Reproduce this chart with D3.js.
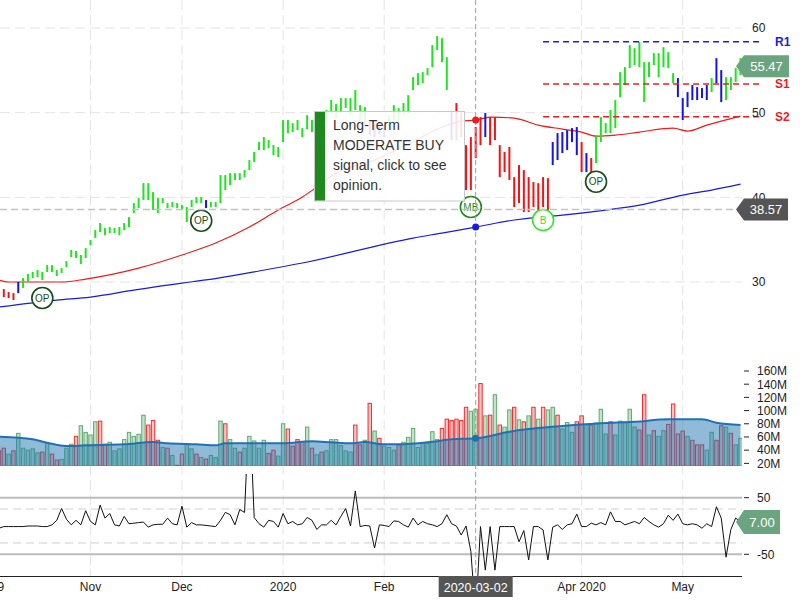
<!DOCTYPE html>
<html><head><meta charset="utf-8">
<script src="https://cdn.jsdelivr.net/npm/d3@7"></script>
<style>body{margin:0;background:#fff}svg{display:block;font-family:"Liberation Sans",Arial,sans-serif}</style>
</head><body><svg id="c" width="800" height="600"></svg>
<script>
// ---------- DATA ----------
const highs = [29.40,29.16,28.81,28.69,30.00,30.46,30.95,31.18,31.42,31.18,
32.00,32.00,31.42,31.64,32.47,33.78,33.66,33.19,34.00,34.96,
36.14,36.96,36.37,36.49,36.37,36.49,36.96,37.67,39.32,39.91,
41.68,41.68,40.62,39.91,39.91,39.32,39.44,39.32,39.08,38.85,
39.68,40.03,40.03,39.68,39.44,39.44,42.63,42.63,42.86,42.86,
42.86,43.22,44.40,45.35,46.53,47.12,46.76,46.17,45.94,49.13,
49.13,48.77,49.13,48.18,49.71,49.13,49.36,49.71,50.31,51.49,
51.01,51.72,51.72,51.72,52.67,50.89,50.66,48.89,48.65,48.89,
48.53,49.71,50.89,50.54,51.13,52.07,54.20,54.67,54.79,55.26,
57.98,59.04,58.80,56.56,50.07,51.13,50.07,46.17,47.12,48.30,
49.48,49.95,49.48,49.48,46.17,45.35,45.94,42.39,43.81,43.22,
42.39,41.80,41.68,42.39,42.27,46.53,47.59,47.71,47.94,48.18,
48.30,46.53,45.23,44.64,47.35,49.48,48.77,50.31,51.49,54.79,
55.38,57.98,57.62,58.33,55.97,55.97,57.03,57.03,57.74,57.15,
54.67,54.08,51.72,52.43,53.26,53.02,52.90,53.26,54.08,56.44,
55.03,54.20,54.20,55.26,56.44];
const lows = [28.69,28.22,28.10,27.87,28.69,29.28,30.00,30.46,30.58,30.24,
31.18,31.18,30.70,31.07,31.76,32.95,32.83,32.12,32.83,34.37,
35.19,35.90,35.54,35.78,35.78,35.54,36.14,36.49,38.14,38.73,
39.68,39.68,38.50,38.14,39.32,38.73,38.85,38.73,38.50,37.08,
38.85,39.32,39.32,38.73,38.85,38.85,39.32,40.86,41.45,42.04,
42.04,42.39,43.22,44.16,45.58,45.58,45.82,44.99,44.76,46.53,
47.59,47.71,47.94,47.12,48.06,47.71,48.18,48.53,48.89,49.95,
49.36,50.07,50.54,49.71,50.31,48.89,48.53,47.35,47.12,47.47,
47.12,48.18,49.13,48.89,49.71,49.95,52.67,53.26,53.49,54.44,
55.38,57.39,55.97,52.67,46.76,46.76,47.12,40.86,40.86,44.64,
46.17,47.12,46.17,46.76,42.39,42.98,42.04,38.85,39.32,38.26,
38.26,38.85,38.26,38.85,38.50,43.81,44.40,45.23,45.58,46.53,
44.99,42.98,42.98,42.98,44.05,46.53,47.59,47.59,48.18,51.84,
53.26,55.26,55.62,55.38,51.25,54.20,55.62,54.20,55.38,55.26,
53.49,51.84,49.13,50.66,51.49,51.49,51.72,51.49,52.43,53.49,
51.25,51.49,52.67,53.61,54.44];
// bar signal colour: g = up trend, r = down trend, b = neutral
const barSignal = ("rrrrbggggg"+"gggggggggg"+"gggggggggg"+"gggggggggg"+"gggbgggggg"+
"gggggggggg"+"gggggggggg"+"gggggggbbb"+"bggggggggg"+"ggggbrrrrr"+
"rbrrrrrrrr"+"rrrrrbbbbb"+"brbrgggggg"+"gggggggggg"+"gbbbbbbbgb"+"bgggg").split("");
const volumes = [39,43,34,39,65.5,43,40,42,36,37,
51,34,25,26,43,49,61,77,67,63,
83,84,49,52,39,42,56,67,61,64,
93,78,85,55,44,43,32,17,34,50,
42,34,29,26.5,32,29,84,80,56,43,
37,43,61,54,43,55,35,40,31,80,
72,46,56,53,75,43,33,37,39,56,
56,47,39,37,78,48,55,111,69,58,
46,44,40,48,52,59.5,73,44,50,50,
68,56,73,87,85,87,85,105,99,102,
141,92,93,124,78,75,101,105,86,83,
92,105,87,105,101,105,93,72,82,67,
83,92,79,78,81,102,64.5,83,63,84,
82,102,75,70.5,124,63,69.5,61,69.5,79,
110,64.5,69,61,55,48,48,40,67,55,
77,75,65.5,48,58];
const volDir = ("rrgrgggggr"+"grrgggrggg"+"grrggggggg"+"grrrgrgrrg"+"grgrgggrgg"+
"rgggggrrgg"+"rrrrgrgrgg"+"ggggrrgrgr"+"gggrgggggg"+"ggrrrrrrgg"+
"rgrgrggrgr"+"grgrggrggg"+"rrgrgggrgg"+"gggrrgrggr"+"rrrgrrrggr"+"rgrgg").split("");
const oscValues = [-4,-1,-1,-1,-1,-1,0,0,0,-1,
-1,2,10,31,12,2,10,2,27,8,
2,37,14,22,2,0,17,4,5,6,
7,-2,2,3,3,14,4,2,35,-2,
6,2,2,1,0,-1,10,24,20,2,
29,24,220,15,4,-2,10,8,-2,22,
4,8,2,4,15,10,-6,2,2,10,
2,17,31,0,62,-1,1,0,-39,2,
1,-1,9,8,2,-2,14,2,8,4,
2,-1,4,20,4,0,-16,0,-45,-160,
-1,-78,-1,-78,-1,-1,-1,-1,-28,-8,
-60,-1,-1,-7,-60,-2,2,-6,2,4,
21,-1,-1,5,2,6,2,25,8,8,
2,5,8,4,15,8,2,-2,4,19,
10,21,4,2,4,2,-4,4,-1,34,
14,-55,-6,14,7];
// moving averages as [bar index, value]
const maShort = [[0,30.24],[2,30.00],[13,30.00],[18,30.35],[29,31.64],[38,33.19],[45,34.60],[52,36.49],[58,38.50],[63,40.03],[66,41.21],[70,42.86],[78,44.40],[85,46.28],[92,48.30],[96,49.01],[99,49.13],[102,49.48],[107,49.36],[112,48.53],[117,48.06],[121,47.71],[124,47.23],[128,47.35],[133,47.71],[140,48.18],[143,47.82],[147,48.53],[154,49.60]];
const maLong = [[0,27.04],[12,27.87],[19,28.22],[28,29.04],[38,29.87],[43,30.24],[54,31.30],[63,32.24],[86,35.19],[92,35.78],[99,36.49],[107,37.32],[112,37.67],[117,37.91],[126,38.50],[133,39.08],[142,40.27],[148,40.86],[154,41.56]];
const volMA = [[0,60.4],[7,56.4],[10,51.3],[14,46.3],[18,47.3],[26,48.8],[32,52.3],[35,50.3],[41,48.8],[45,47.3],[47,50.3],[59,50.3],[65,53.4],[69,51.9],[73,50.3],[76,52.3],[80,48.8],[83,48.8],[90,52.8],[94,56.4],[99,57.9],[106,68.0],[117,76.6],[125,80.7],[132,83.1],[139,86.8],[146,86.8],[149,81.6],[154,78.1]];
const monthTicks = [["Oct 2019",-4],["Nov",19],["Dec",38],["2020",59],["Feb",80],["Apr 2020",121],["May",142]];
const priceTicks = [30,40,50,60];
const volTicks = [20,40,60,80,100,120,140,160];
const oscTicks = [50,-50];
const levels = [["R1",58.37,"#1a1ae6"],["S1",53.38,"#ee1c1c"],["S2",49.52,"#ee1c1c"]];
const levelStart = 113;
const signals = [["OP",9,28.11],["OP",42,37.24],["OP",124,41.84],["MB",98,38.86],["B",113,37.32]];
const crossIndex = 99, crossPrice = 38.57, crossDate = "2020-03-02";
const lastPrice = 55.47, lastOsc = 7.00;
const tipLines = ["Long-Term","MODERATE BUY","signal, click to see","opinion."];

// ---------- SCALES ----------
const svg = d3.select("#c");
const PR = 742;
const x = d3.scaleLinear().domain([0,154]).range([-1,740.5]);
const yP = d3.scaleLinear().domain([30,60]).range([282,28]);
const yV = d3.scaleLinear().domain([16,160]).range([466,371]);
const yO = d3.scaleLinear().domain([-50,50]).range([554.3,497.7]);
const col = {g:"#1fe51f", r:"#f01414", b:"#1414e6"};
const defs = svg.append("defs");
[["cm",0,0,PR,345],["cv",0,355,PR,111],["co",0,474,PR,102]].forEach(([id,a,b,w,h])=>
  defs.append("clipPath").attr("id",id).append("rect").attr("x",a).attr("y",b).attr("width",w).attr("height",h));

// grid
const grid = svg.append("g");
grid.selectAll("line.v").data(monthTicks.filter(d=>d[1]>=0)).join("line")
  .attr("x1",d=>x(d[1])).attr("x2",d=>x(d[1])).attr("y1",0).attr("y2",576)
  .attr("stroke","#e4e4e4").attr("stroke-dasharray","10,5");
grid.selectAll("line.h").data(priceTicks).join("line")
  .attr("x1",0).attr("x2",PR).attr("y1",d=>yP(d)).attr("y2",d=>yP(d))
  .attr("stroke","#e4e4e4").attr("stroke-dasharray","10,5");

// ---------- MAIN PANEL ----------
const main = svg.append("g").attr("clip-path","url(#cm)");
const maLine = d3.line().x(d=>x(d[0])).y(d=>yP(d[1])).curve(d3.curveMonotoneX);
main.append("path").attr("d",maLine(maShort)).attr("fill","none").attr("stroke","#f01a1a").attr("stroke-width",1.2);
main.append("path").attr("d",maLine(maLong)).attr("fill","none").attr("stroke","#1a1ae0").attr("stroke-width",1.2);
main.selectAll("line.bar").data(highs).join("line")
  .attr("x1",(d,i)=>x(i)).attr("x2",(d,i)=>x(i))
  .attr("y1",d=>yP(d)).attr("y2",(d,i)=>yP(lows[i]))
  .attr("stroke",(d,i)=>col[barSignal[i]]).attr("stroke-width",2);

// support / resistance
const lv = svg.append("g");
levels.forEach(([name,val,c])=>{
  lv.append("line").attr("x1",x(levelStart)).attr("x2",762).attr("y1",yP(val)).attr("y2",yP(val))
    .attr("stroke",c).attr("stroke-width",1.5).attr("stroke-dasharray","6,4");
  lv.append("text").attr("x",775).attr("y",yP(val)).attr("dy","0.36em").attr("fill",c)
    .attr("font-weight","bold").attr("font-size",12).text(name);
});

// signals
const sg = svg.append("g");
signals.forEach(([t,i,v])=>{
  const c = t==="OP" ? "#174d17" : (t==="MB" ? "#1f8a1f" : "#2ee82e");
  sg.append("circle").attr("cx",x(i)).attr("cy",yP(v)).attr("r",10.5).attr("fill","#fff").attr("stroke",c).attr("stroke-width",1.6);
  sg.append("text").attr("x",x(i)).attr("y",yP(v)).attr("dy","0.36em").attr("text-anchor","middle")
    .attr("font-size",10).attr("fill",c).text(t);
});

// ---------- VOLUME PANEL ----------
const vol = svg.append("g").attr("clip-path","url(#cv)");
vol.selectAll("rect").data(volumes).join("rect")
  .attr("x",(d,i)=>x(i)-1.7).attr("width",3.4)
  .attr("y",d=>yV(d)).attr("height",d=>yV(16)-yV(d))
  .attr("fill",(d,i)=>volDir[i]==="g"?"#c2e3c9":"#f7c4c4")
  .attr("stroke",(d,i)=>volDir[i]==="g"?"#5fa872":"#ee3030").attr("stroke-width",1);
const vArea = d3.area().x(d=>x(d[0])).y0(yV(16)).y1(d=>yV(d[1])).curve(d3.curveMonotoneX);
vol.append("path").attr("d",vArea(volMA)).attr("fill","#1f77b4").attr("fill-opacity",0.5);
const vLine = d3.line().x(d=>x(d[0])).y(d=>yV(d[1])).curve(d3.curveMonotoneX);
vol.append("path").attr("d",vLine(volMA)).attr("fill","none").attr("stroke","#2070b2").attr("stroke-width",2);

// ---------- OSCILLATOR PANEL ----------
const osc = svg.append("g");
oscTicks.forEach(v=>{
  osc.append("line").attr("x1",0).attr("x2",PR).attr("y1",yO(v)).attr("y2",yO(v)).attr("stroke","#bdbdbd").attr("stroke-width",2);
});
[30,-30].forEach(v=>{
  osc.append("line").attr("x1",0).attr("x2",PR).attr("y1",yO(v)).attr("y2",yO(v)).attr("stroke","#cfcfcf").attr("stroke-dasharray","8,5");
});
osc.append("g").attr("clip-path","url(#co)").append("path")
  .attr("d",d3.line().x((d,i)=>x(i)).y(d=>yO(d))(oscValues))
  .attr("fill","none").attr("stroke","#111").attr("stroke-width",1);
svg.append("line").attr("x1",0).attr("x2",PR).attr("y1",576.5).attr("y2",576.5).attr("stroke","#222").attr("stroke-width",1.2);

// ---------- CROSSHAIR ----------
const ch = svg.append("g");
ch.append("line").attr("x1",x(crossIndex)).attr("x2",x(crossIndex)).attr("y1",0).attr("y2",576)
  .attr("stroke","#a0a0a0").attr("stroke-dasharray","5,3");
ch.append("line").attr("x1",0).attr("x2",PR).attr("y1",yP(crossPrice)).attr("y2",yP(crossPrice))
  .attr("stroke","#c4c4c4").attr("stroke-width",1.6).attr("stroke-dasharray","7,4");
const at = (arr,i)=>arr.find(d=>d[0]===i)[1];
ch.append("circle").attr("cx",x(crossIndex)).attr("cy",yP(at(maShort,crossIndex))).attr("r",3.5).attr("fill","#f01a1a");
ch.append("circle").attr("cx",x(crossIndex)).attr("cy",yP(at(maLong,crossIndex))).attr("r",3.5).attr("fill","#1a1ae0");
ch.append("circle").attr("cx",x(crossIndex)).attr("cy",yV(at(volMA,crossIndex))).attr("r",3.5).attr("fill","#2070b2");

// ---------- TOOLTIP ----------
const tp = svg.append("g");
tp.append("rect").attr("x",314.5).attr("y",111.5).attr("width",150).attr("height",89.5)
  .attr("fill","#fff").attr("fill-opacity",0.88).attr("stroke","#c8c8c8");
tp.append("rect").attr("x",315).attr("y",112).attr("width",10).attr("height",88.5).attr("fill","#1e8a1e");
tp.selectAll("text").data(tipLines).join("text").attr("x",333).attr("y",(d,i)=>130+i*20)
  .attr("font-size",14).attr("fill","#333").text(d=>d);

// ---------- AXES ----------
const ax = svg.append("g").attr("font-size",12).attr("fill","#222");
ax.selectAll("text.m").data(monthTicks).join("text").attr("x",d=>x(d[1])).attr("y",591)
  .attr("text-anchor","middle").text(d=>d[0]);
priceTicks.forEach(v=> ax.append("text").attr("x",752).attr("y",yP(v)).attr("dy","0.36em").text(v));
volTicks.forEach(v=>{
  ax.append("line").attr("x1",744).attr("x2",749).attr("y1",yV(v)).attr("y2",yV(v)).attr("stroke","#222");
  ax.append("text").attr("x",757).attr("y",yV(v)).attr("dy","0.36em").text(v+"M");
});
oscTicks.forEach(v=>{
  ax.append("line").attr("x1",744).attr("x2",749).attr("y1",yO(v)).attr("y2",yO(v)).attr("stroke","#222");
  ax.append("text").attr("x",757).attr("y",yO(v)).attr("dy","0.36em").text(v);
});

// value flags
function flag(yc, txt, fill, right, h){
  const g = svg.append("g");
  g.append("path").attr("d",`M736,${yc} L744,${yc-h/2} L${right},${yc-h/2} L${right},${yc+h/2} L744,${yc+h/2} Z`).attr("fill",fill);
  g.append("text").attr("x",(744+right)/2).attr("y",yc).attr("dy","0.36em").attr("text-anchor","middle")
    .attr("font-size",13).attr("fill","#fff").text(txt);
}
flag(yP(lastPrice), lastPrice.toFixed(2), "#6aa57f", 789, 22);
flag(yP(crossPrice), crossPrice.toFixed(2), "#555", 788, 22);
flag(yO(lastOsc), lastOsc.toFixed(2), "#6aa57f", 780, 24);
// date flag
const dg = svg.append("g");
dg.append("rect").attr("x",x(crossIndex)-37).attr("y",576).attr("width",74).attr("height",21).attr("fill","#555");
dg.append("text").attr("x",x(crossIndex)).attr("y",587).attr("dy","0.36em").attr("text-anchor","middle")
  .attr("font-size",12.5).attr("fill","#fff").text(crossDate);
</script></body></html>
